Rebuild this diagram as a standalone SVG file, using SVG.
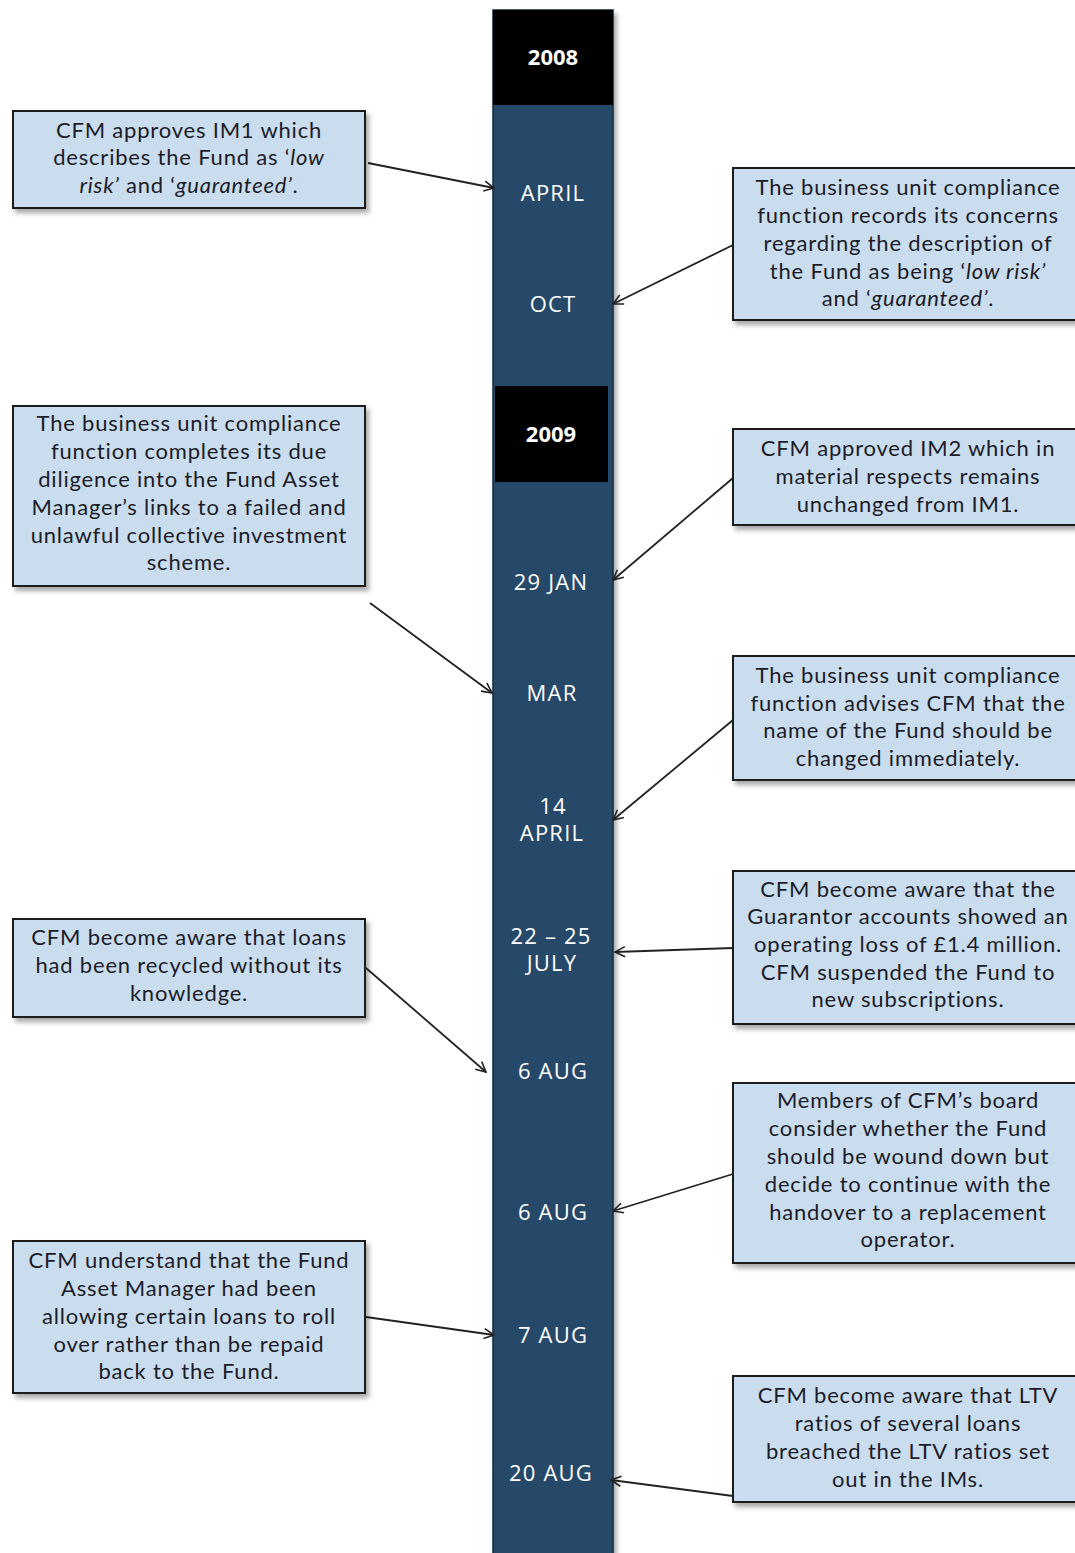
<svg xmlns="http://www.w3.org/2000/svg" width="1075" height="1553" viewBox="0 0 1075 1553">
<defs>
<style>
.box{fill:#C9DDEE;stroke:#1e1e1e;stroke-width:2}
.bt{font-family:Lato,"Liberation Sans",sans-serif;font-size:22px;letter-spacing:0.8px;fill:#1c1c28;text-anchor:middle}
.it{font-style:italic}
.mt{font-family:"Open Sans","Liberation Sans",sans-serif;font-size:22px;letter-spacing:1.2px;fill:#ffffff;text-anchor:middle}
.yt{font-family:"Open Sans","Liberation Sans",sans-serif;font-size:22px;font-weight:bold;fill:#ffffff;text-anchor:middle}
.con{stroke:#222;stroke-width:1.8;fill:none;marker-end:url(#arr)}
</style>
<filter id="sh" x="-5%" y="-5%" width="115%" height="120%">
<feDropShadow dx="3" dy="4" stdDeviation="2.5" flood-color="#000" flood-opacity="0.35"/>
</filter>
<marker id="arr" viewBox="0 0 12 12" refX="11" refY="6" markerWidth="12" markerHeight="12" markerUnits="userSpaceOnUse" orient="auto">
<path d="M1,1 L11,6 L1,11" fill="none" stroke="#222" stroke-width="1.6"/>
</marker>
</defs>
<rect width="1075" height="1553" fill="#ffffff"/>

<g id="timeline">
<rect x="493" y="10" width="120" height="1553" fill="#284A69" stroke="#16283a" stroke-width="1.5" filter="url(#sh)"/>
<rect x="493" y="10" width="120" height="95" fill="#000"/>
<rect x="495" y="386" width="113" height="96" fill="#000"/>
<text class="yt" x="553" y="65">2008</text>
<text class="yt" x="551" y="442">2009</text>
<text class="mt" x="553" y="201">APRIL</text>
<text class="mt" x="553" y="312">OCT</text>
<text class="mt" x="551" y="590">29 JAN</text>
<text class="mt" x="552" y="701">MAR</text>
<text class="mt" x="553" y="814">14</text>
<text class="mt" x="552" y="841">APRIL</text>
<text class="mt" x="551" y="944">22 – 25</text>
<text class="mt" x="552" y="971">JULY</text>
<text class="mt" x="553" y="1079">6 AUG</text>
<text class="mt" x="553" y="1220">6 AUG</text>
<text class="mt" x="553" y="1343">7 AUG</text>
<text class="mt" x="551" y="1481">20 AUG</text>
</g>

<g id="connectors">
<line class="con" x1="368" y1="163" x2="494" y2="188"/>
<line class="con" x1="733" y1="245" x2="613" y2="304"/>
<line class="con" x1="370" y1="603" x2="492" y2="693"/>
<line class="con" x1="733" y1="478" x2="613" y2="580"/>
<line class="con" x1="733" y1="720" x2="613" y2="820"/>
<line class="con" x1="733" y1="948" x2="615" y2="952"/>
<line class="con" x1="366" y1="968" x2="486" y2="1072"/>
<line class="con" x1="733" y1="1174" x2="613" y2="1211"/>
<line class="con" x1="366" y1="1317" x2="494" y2="1335"/>
<line class="con" x1="733" y1="1496" x2="611" y2="1480"/>
</g>

<g id="n-l1">
<rect class="box" x="13" y="111" width="352" height="97" filter="url(#sh)"/>
<text class="bt" x="189" y="138">CFM approves IM1 which</text>
<text class="bt" x="189" y="165">describes the Fund as ‘<tspan class="it">low</tspan></text>
<text class="bt" x="189" y="193"><tspan class="it">risk’</tspan> and ‘<tspan class="it">guaranteed’</tspan>.</text>
</g>

<g id="n-r1">
<rect class="box" x="733" y="168" width="352" height="152" filter="url(#sh)"/>
<text class="bt" x="908" y="195">The business unit compliance</text>
<text class="bt" x="908" y="223">function records its concerns</text>
<text class="bt" x="908" y="251">regarding the description of</text>
<text class="bt" x="908" y="279">the Fund as being ‘<tspan class="it">low risk’</tspan></text>
<text class="bt" x="908" y="306">and ‘<tspan class="it">guaranteed’</tspan>.</text>
</g>

<g id="n-l2">
<rect class="box" x="13" y="406" width="352" height="180" filter="url(#sh)"/>
<text class="bt" x="189" y="431">The business unit compliance</text>
<text class="bt" x="189" y="459">function completes its due</text>
<text class="bt" x="189" y="487">diligence into the Fund Asset</text>
<text class="bt" x="189" y="515">Manager’s links to a failed and</text>
<text class="bt" x="189" y="543">unlawful  collective investment</text>
<text class="bt" x="189" y="570">scheme.</text>
</g>

<g id="n-r2">
<rect class="box" x="733" y="429" width="352" height="96" filter="url(#sh)"/>
<text class="bt" x="908" y="456">CFM approved IM2 which in</text>
<text class="bt" x="908" y="484">material respects remains</text>
<text class="bt" x="908" y="512">unchanged from IM1.</text>
</g>

<g id="n-r3">
<rect class="box" x="733" y="656" width="352" height="124" filter="url(#sh)"/>
<text class="bt" x="908" y="683">The business unit compliance</text>
<text class="bt" x="908" y="711">function advises CFM that the</text>
<text class="bt" x="908" y="738">name of the Fund should be</text>
<text class="bt" x="908" y="766">changed immediately.</text>
</g>

<g id="n-r4">
<rect class="box" x="733" y="871" width="352" height="153" filter="url(#sh)"/>
<text class="bt" x="908" y="897">CFM become aware that the</text>
<text class="bt" x="908" y="924">Guarantor accounts showed an</text>
<text class="bt" x="908" y="952">operating loss of £1.4 million.</text>
<text class="bt" x="908" y="980">CFM suspended the Fund to</text>
<text class="bt" x="908" y="1007">new subscriptions.</text>
</g>

<g id="n-l3">
<rect class="box" x="13" y="919" width="352" height="98" filter="url(#sh)"/>
<text class="bt" x="189" y="945">CFM become aware that loans</text>
<text class="bt" x="189" y="973">had been recycled without its</text>
<text class="bt" x="189" y="1001">knowledge.</text>
</g>

<g id="n-r5">
<rect class="box" x="733" y="1083" width="352" height="180" filter="url(#sh)"/>
<text class="bt" x="908" y="1108">Members of CFM’s board</text>
<text class="bt" x="908" y="1136">consider whether the Fund</text>
<text class="bt" x="908" y="1164">should be wound down but</text>
<text class="bt" x="908" y="1192">decide to continue with the</text>
<text class="bt" x="908" y="1220">handover to a  replacement</text>
<text class="bt" x="908" y="1247">operator.</text>
</g>

<g id="n-l4">
<rect class="box" x="13" y="1241" width="352" height="152" filter="url(#sh)"/>
<text class="bt" x="189" y="1268">CFM understand that the Fund</text>
<text class="bt" x="189" y="1296">Asset Manager had been</text>
<text class="bt" x="189" y="1324">allowing certain loans to roll</text>
<text class="bt" x="189" y="1352">over rather than be repaid</text>
<text class="bt" x="189" y="1379">back to the Fund.</text>
</g>

<g id="n-r6">
<rect class="box" x="733" y="1376" width="352" height="126" filter="url(#sh)"/>
<text class="bt" x="908" y="1403">CFM become aware that LTV</text>
<text class="bt" x="908" y="1431">ratios of several loans</text>
<text class="bt" x="908" y="1459">breached the LTV ratios set</text>
<text class="bt" x="908" y="1487">out in the IMs.</text>
</g>
</svg>
